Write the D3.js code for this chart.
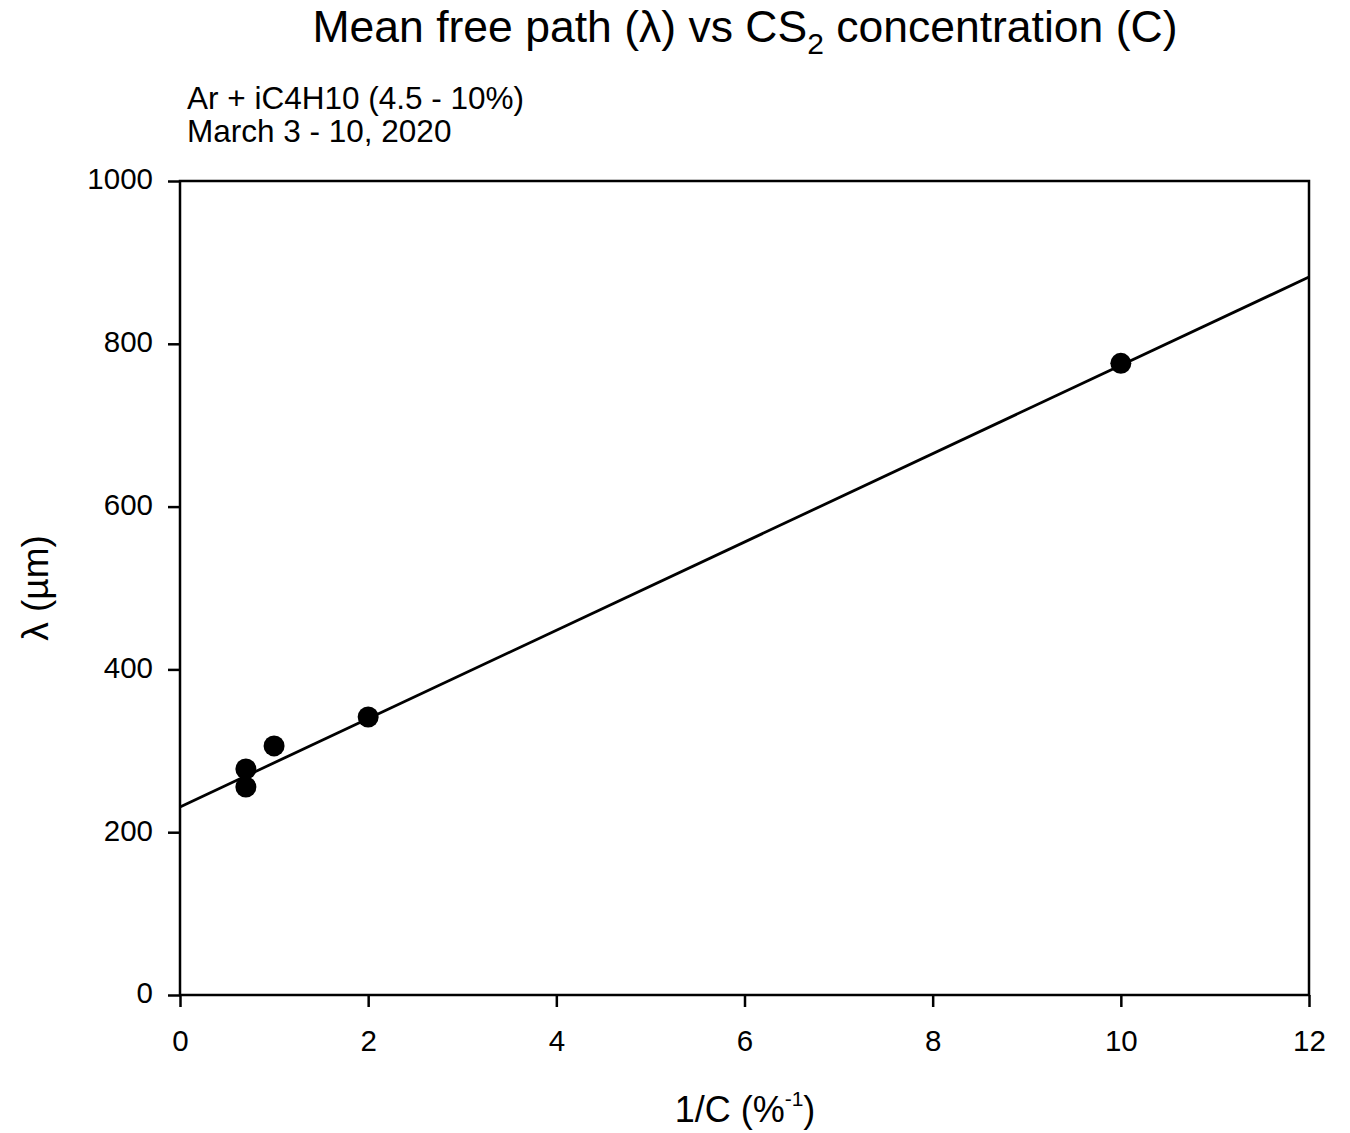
<!DOCTYPE html>
<html>
<head>
<meta charset="utf-8">
<script src="https://cdn.jsdelivr.net/npm/d3@7"></script>
<style>
  body { margin: 0; background: #fff; }
  svg { display: block; font-family: "Liberation Sans", Arial, sans-serif; }
</style>
</head>
<body>
<svg id="chart" width="1350" height="1133"></svg>
<script>
// Measured mean free path vs inverse CS2 concentration
const invConc = [0.7, 0.7, 1, 2, 10];          // 1/C (%^-1)
const lambda  = [277.6, 255.5, 306, 341.5, 776]; // λ (µm)

// Linear fit λ = a + b·(1/C)
const fitIntercept = 231;
const fitSlope = 54.25;
const fitRange = [0, 12];

const xTicks = [0, 2, 4, 6, 8, 10, 12];
const yTicks = [0, 200, 400, 600, 800, 1000];

const svg = d3.select("#chart");
const plotLeft = 180, plotRight = 1309, plotTop = 181, plotBottom = 995;

const x = d3.scaleLinear().domain([0, 12]).range([plotLeft, plotRight]);
const y = d3.scaleLinear().domain([0, 1000]).range([plotBottom, plotTop]);

// Frame
svg.append("rect")
  .attr("x", plotLeft).attr("y", plotTop)
  .attr("width", plotRight - plotLeft).attr("height", plotBottom - plotTop)
  .attr("fill", "none").attr("stroke", "#000").attr("stroke-width", 2.5);

// Axes
const xAxis = svg.append("g")
  .attr("transform", `translate(0,${plotBottom})`)
  .call(d3.axisBottom(x).tickValues(xTicks).tickFormat(d3.format("d")).tickSize(12).tickPadding(10));
const yAxis = svg.append("g")
  .attr("transform", `translate(${plotLeft},0)`)
  .call(d3.axisLeft(y).tickValues(yTicks).tickFormat(d3.format("d")).tickSize(12).tickPadding(15));

[xAxis, yAxis].forEach(g => {
  g.select(".domain").remove();
  g.selectAll(".tick line").attr("stroke", "#000").attr("stroke-width", 2.5);
  g.selectAll(".tick text")
    .attr("fill", "#000")
    .style("font-size", "29.5px")
    .style("font-family", "'Liberation Sans', Arial, sans-serif");
});
xAxis.selectAll(".tick text").attr("y", 56).attr("dy", 0);
yAxis.selectAll(".tick text").attr("dy", "0.27em");

// Fit line
svg.append("line")
  .attr("x1", x(fitRange[0])).attr("y1", y(fitIntercept + fitSlope * fitRange[0]))
  .attr("x2", x(fitRange[1])).attr("y2", y(fitIntercept + fitSlope * fitRange[1]))
  .attr("stroke", "#000").attr("stroke-width", 2.8);

// Data points
svg.append("g").selectAll("circle")
  .data(invConc.map((v, i) => [v, lambda[i]]))
  .join("circle")
  .attr("cx", d => x(d[0]))
  .attr("cy", d => y(d[1]))
  .attr("r", 10.5)
  .attr("fill", "#000");

// Title
const title = svg.append("text")
  .attr("x", 745).attr("y", 42)
  .attr("text-anchor", "middle")
  .style("font-size", "44.5px")
  .attr("fill", "#000");
title.append("tspan").text("Mean free path (λ) vs CS");
title.append("tspan").attr("dy", 12).style("font-size", "30px").text("2");
title.append("tspan").attr("dy", -12).text(" concentration (C)");

// Annotation
svg.append("text").attr("x", 187).attr("y", 109)
  .style("font-size", "31.5px").text("Ar + iC4H10 (4.5 - 10%)");
svg.append("text").attr("x", 187).attr("y", 142)
  .style("font-size", "31.5px").text("March 3 - 10, 2020");

// Axis titles
const xl = svg.append("text")
  .attr("x", 745).attr("y", 1122)
  .attr("text-anchor", "middle")
  .style("font-size", "36px");
xl.append("tspan").text("1/C (%");
xl.append("tspan").attr("dy", -16).style("font-size", "21px").text("-1");
xl.append("tspan").attr("dy", 16).text(")");

svg.append("text")
  .attr("transform", "translate(48,588) rotate(-90)")
  .attr("text-anchor", "middle")
  .style("font-size", "37px")
  .text("λ (µm)");
</script>
</body>
</html>
